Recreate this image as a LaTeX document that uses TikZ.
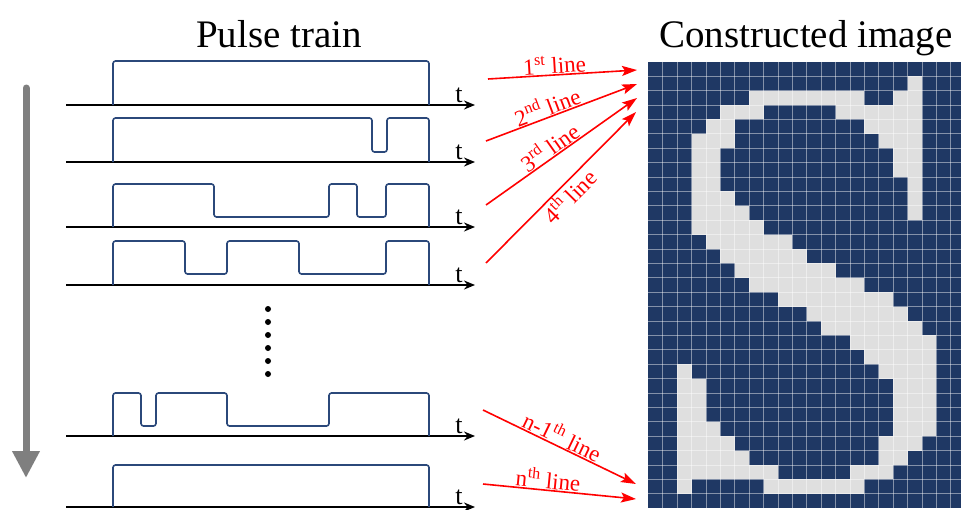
\documentclass[tikz,border=0pt]{standalone}
\usepackage{fontspec}
\setmainfont{Liberation Serif}
\usetikzlibrary{arrows.meta}
\definecolor{navy}{RGB}{31,56,100}
\definecolor{pale}{RGB}{223,223,223}
\definecolor{wavecol}{RGB}{43,72,122}
\definecolor{scangray}{RGB}{127,127,127}
\tikzset{
  axis/.style={black, line width=1.8pt, -{Stealth[length=11pt,width=9pt]}},
  wave/.style={wavecol, line width=1.6pt, rounded corners=2.5pt},
  tag/.style={red, line width=1.6pt, -{Stealth[length=15pt,width=10pt,inset=3pt]}},
  lbl/.style={red, font=\fontsize{23}{23}\selectfont, sloped, inner sep=0.5pt},
  title/.style={font=\fontsize{39}{40}\selectfont, anchor=base},
  tvar/.style={font=\fontsize{26}{26}\selectfont, anchor=base, inner sep=0pt},
  gridline/.style={white, opacity=0.45, line width=0.8pt}
}
\begin{document}
\begin{tikzpicture}[x=1pt,y=-1pt]
  \useasboundingbox (0,0) rectangle (961,509);

  \node[title] (ptitle) at (279,47) {Pulse train};
  \node[title] (ctitle) at (806,47) {Constructed image};

  % time axes
  \foreach \y [count=\i] in {105,162,227,285,436,507} {
    \coordinate (a\i) at (66,\y);
    \coordinate (b\i) at (475,\y);
    \draw[axis] (a\i) -- (b\i);
    \node[tvar] (t\i) at (459,\y-3) {t};
  }

  % pulses
  \draw[wave] (113,105) -- (113,61) -- (429,61) -- (429,105);
  \draw[wave] (113,162) -- (113,118) -- (372,118) -- (372,152) -- (387,152) -- (387,118) -- (429,118) -- (429,162);
  \draw[wave] (113,227) -- (113,184) -- (214,184) -- (214,217) -- (329,217) -- (329,184) -- (357,184) -- (357,217) -- (386,217) -- (386,184) -- (429,184) -- (429,227);
  \draw[wave] (113,285) -- (113,241) -- (185,241) -- (185,274) -- (227,274) -- (227,241) -- (299,241) -- (299,274) -- (386,274) -- (386,241) -- (429,241) -- (429,285);
  \draw[wave] (113,436) -- (113,393) -- (141,393) -- (141,426) -- (156,426) -- (156,393) -- (227,393) -- (227,426) -- (329,426) -- (329,393) -- (429,393) -- (429,436);
  \draw[wave] (113,507) -- (113,465) -- (429,465) -- (429,507);

  \foreach \y in {309,322,...,375}
    \fill[black] (268,\y) circle (3pt);

  % scan direction
  \coordinate (scanA) at (26,88);
  \coordinate (scanB) at (26,478);
  \draw[scangray, line width=7pt, line cap=round, -{Triangle[length=27pt,width=26pt]}] (scanA) -- (scanB);

  % pixel image
  \begin{scope}
    \clip (0,0) rectangle (961,509);
    \begin{scope}[shift={(648.3,61.7)}, x=14.4pt, y=-14.4pt]
      \fill[navy] (0,0) rectangle (22,31);
      \foreach \r/\a/\b in {1/18/18, 2/7/14, 2/17/18, 3/5/7, 3/13/18, 4/4/5, 4/15/18,
          5/3/5, 5/16/18, 6/3/4, 6/17/18, 7/3/4, 7/17/18, 8/3/4, 8/18/18, 9/3/5, 9/18/18,
          10/3/6, 10/18/18, 11/3/7, 12/4/9, 13/5/10, 14/6/12, 15/7/14, 16/9/16, 17/11/17,
          18/12/18, 19/14/19, 20/15/19, 21/2/2, 21/16/19, 22/2/3, 22/17/19, 23/2/3, 23/17/19,
          24/2/3, 24/17/19, 25/2/4, 25/17/19, 26/2/5, 26/16/18, 27/2/6, 27/16/17,
          28/2/8, 28/14/16, 29/2/2, 29/8/14}
        \fill[pale] (\a,\r) rectangle (\b+1,\r+1);
      \foreach \c in {1,...,21}
        \draw[gridline] (\c,0) -- (\c,31);
      \foreach \r in {1,...,30}
        \draw[gridline] (0,\r) -- (22,\r);
    \end{scope}
  \end{scope}

  % line mapping
  \coordinate (s1) at (488,79);  \coordinate (e1) at (637,70);
  \coordinate (s2) at (486,141); \coordinate (e2) at (637,84);
  \coordinate (s3) at (486,205); \coordinate (e3) at (637,98);
  \coordinate (s4) at (486,263); \coordinate (e4) at (636,112);
  \coordinate (s5) at (483,410); \coordinate (e5) at (636,484);
  \coordinate (s6) at (483,484); \coordinate (e6) at (636,499);
  \draw[tag] (s1) -- node[lbl, above, pos=0.45] (l1) {1\textsuperscript{st} line} (e1);
  \draw[tag] (s2) -- node[lbl, above, pos=0.43] (l2) {2\textsuperscript{nd} line} (e2);
  \draw[tag] (s3) -- node[lbl, above, pos=0.46] (l3) {3\textsuperscript{rd} line} (e3);
  \draw[tag] (s4) -- node[lbl, below, pos=0.5] (l4) {4\textsuperscript{th} line} (e4);
  \draw[tag] (s5) -- node[lbl, above, pos=0.49] (l5) {n-1\textsuperscript{th} line} (e5);
  \draw[tag] (s6) -- node[lbl, above, pos=0.42] (l6) {n\textsuperscript{th} line} (e6);
\end{tikzpicture}
\end{document}
